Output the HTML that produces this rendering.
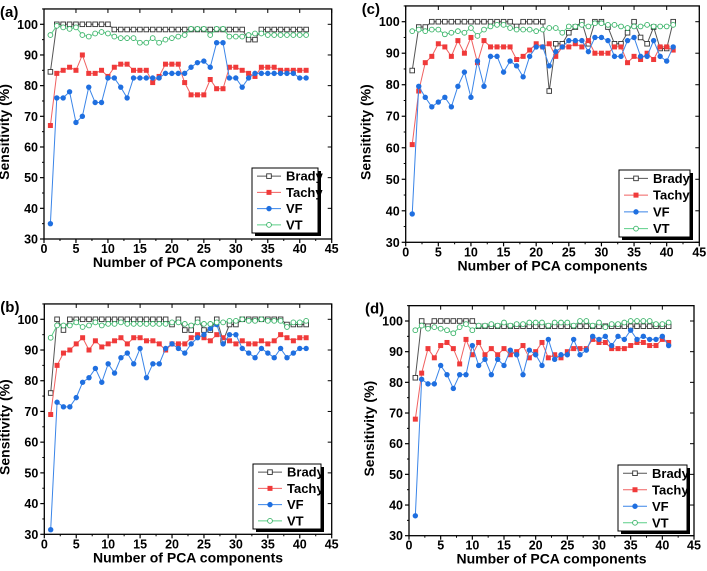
<!DOCTYPE html>
<html><head><meta charset="utf-8"><style>
html,body{margin:0;padding:0;background:#fff;}
svg{display:block;font-family:"Liberation Sans",Arial,sans-serif;}
</style></head><body>
<svg id="fig" width="707" height="571" viewBox="0 0 707 571"></svg>
<script>
const xCats = Array.from({length:41},(_, i)=>i+1);
const xTicks = [0,5,10,15,20,25,30,35,40,45];
const yTicks = [30,40,50,60,70,80,90,100];
const seriesNames = ["Brady","Tachy","VF","VT"];

const aBrady=[84.5,100,100,100,100,100,100,100,100,100,98.3,98.3,98.3,98.3,98.3,98.3,98.3,98.3,98.3,98.3,98.3,98.3,98.3,98.3,98.3,98.3,98.3,98.3,98.3,98.3,98.3,95,95,98.3,98.3,98.3,98.3,98.3,98.3,98.3,98.3];
const aTachy=[67,84,85,86,85,90,84,84,85,83,86,87,87,85,85,85,81,83,87,87,87,81,77,77,77,82,79,79,86,86,85,84,83,86,86,86,85,85,85,85,85];
const aVF=[35,76,76,78,68,70,79.5,74.5,74.5,82.5,82.5,79.5,76,82.5,82.5,82.5,82.5,82.5,84,84,84,84,86,87.5,88,86,94,94,82.5,82.5,79.5,82.5,84,84,84,84,84,84,84,82.5,82.5];
const aVT=[96.5,99.5,99,98.5,99,96.5,96,97,97.5,97,96,95.5,95.5,95.5,94,94,95.5,94,95,95.5,96,96.5,98.5,98.5,98.5,96.5,98.5,98.5,96,96,96,96.5,97,97,96.5,96.5,96.5,96.5,96.5,96.5,96.5];

const bBrady=[76,100,96.5,100,100,100,100,100,100,100,100,100,100,100,100,100,100,100,100,98.3,100,96.5,96.5,100,96.5,96.5,100,93,98.3,98.3,100,100,100,100,100,100,100,98.3,98.3,98.3,98.3];
const bTachy=[69,85,89,90,92,94,90,93,91,92,93,94,92,94,94,93,93,92,90,92,92,92,94,95,94,93,95,94,93,92,93,92,92,93,92,93,95,94,93,94,94];
const bVF=[31.5,73,71.5,71.5,74.5,79.5,81,84,79.5,85.5,82.5,87.5,89,85.5,90.5,81,85.5,85.5,90.5,92,90.5,89,92,94,95,97,98.3,92,95,95,90.5,89,87.5,90.5,89,87.5,90.5,87.5,89,90.5,90.5];
const bVT=[94,98,98,98,99,97.5,98,99,98,98.5,98.5,99,98.5,98.5,98.5,98.5,98.5,98.5,98.5,99,99,98.5,98,99,98.5,98.5,99,99,99.5,99.5,100,99.5,99.5,100,99.5,99.5,99.5,97.5,99,99,99.5];

const cBrady=[84.5,98.3,98.3,100,100,100,100,100,100,100,100,100,100,100,100,100,98.5,100,100,100,100,78,93,93,96.5,98.3,100,93,100,100,98.3,93,93,96.5,100,95,93,98.3,91.5,91.5,100];
const cTachy=[61,78,87,89,93,92,89,94,90,95,87,94,92,92,92,92,88,89,91,93,92,93,89,92,92,93,92,94,90,90,90,92,92,87,89,88,90,88,92,92,91];
const cVF=[39,79.5,76,73,74.5,76,73,79.5,84,76,87.5,79.5,89,89,84,87.5,86,82.5,89,92,92,86,90.5,92,94,94,94,90.5,95,95,94,89,89,94,95,89,89,94,89,87.5,92];
const cVT=[97,97.5,97,97.5,97.5,96,96.5,97,96.5,98,95.5,97.5,98.5,99,99,98,97.5,97.5,97.5,97,97.5,98,98,96.5,98.5,98.5,99,98.5,99.5,99.5,99,99,98.5,98,98.5,98.5,99,98.5,98.5,98.5,99];

const dBrady=[81.5,100,98.3,100,100,100,100,100,100,100,98.3,98.3,98.3,98.3,98.3,98.3,98.3,98.3,98.3,98.3,98.3,98.3,98.3,98.3,98.3,98.3,98.3,98.3,98.3,98.3,98.3,98.3,98.3,98.3,98.3,98.3,98.3,98.3,98.3,98.3,98.3];
const dTachy=[68,83,91,88,92,93,91,86,94,89,93,89,91,89,91,89,90,92,88,90,93,88,89,88,90,91,91,91,94,93,93,91,91,91,92,93,93,92,92,94,93];
const dVF=[36.5,81,79.5,79.5,85.5,82.5,78,82.5,82.5,92,85.5,87.5,82.5,87.5,85.5,90.5,89,82.5,90.5,89,85.5,94,87.5,89,89,94,89,90.5,95,94,95,92,95,94,97,94,95,94,94,95,92];
const dVT=[97,98.5,97.5,98,97.5,97,96,98,99,97,98.5,98.5,99,98.5,99.5,98.5,99,99,99.5,99.5,99.5,98.5,99.5,99.5,99.5,98.5,100,100,98.5,99.5,98,99,99,99.5,100,100,100,100,99,99,99.5];

const NS="http://www.w3.org/2000/svg";
const svg=document.getElementById('fig');
function mk(tag,attrs,parent){const e=document.createElementNS(NS,tag);for(const k in attrs)e.setAttribute(k,attrs[k]);(parent||svg).appendChild(e);return e;}

const panels=[
 {id:"a",x0:44,x45:331.7,y100:24.3,y30:239,leg:[252,168,318,233],data:[aBrady,aTachy,aVF,aVT]},
 {id:"b",x0:44.3,x45:331.7,y100:319.3,y30:534.3,leg:[253,464,321,529],data:[bBrady,bTachy,bVF,bVT]},
 {id:"c",x0:405.7,x45:699.3,y100:21.7,y30:242.3,leg:[619,170,690,237],data:[cBrady,cTachy,cVF,cVT]},
 {id:"d",x0:409,x45:694,y100:321,y30:535.7,leg:[618,465,687,531],data:[dBrady,dTachy,dVF,dVT]}
];
const colors=["#333333","#f03a3a","#1f6fe0","#3cb46a"];
const lineColors=["#555555","#f06060","#3a85e8","#5ccf88"];

panels.forEach(p=>{
 const g=mk('g',{});
 
 
 const sx=v=>p.x0+(p.x45-p.x0)*v/45;
 const sy=v=>p.y30+(p.y100-p.y30)*(v-30)/70;
 const L=sx(0),R=sx(45),B=sy(30),T=sy(105);
 const lab=mk('text',{x:p.x0-44,y:T+8,'font-size':15,'font-weight':'bold',fill:'#000'},g);
 lab.textContent='('+p.id+')';
 
 
 const frame=mk('rect',{x:L,y:T,width:R-L,height:B-T,fill:'none',stroke:'#000','stroke-width':1.3},g);
 
 
 xTicks.forEach(t=>{
  mk('line',{x1:sx(t),x2:sx(t),y1:B,y2:B+4,stroke:'#000','stroke-width':1.2},g);
  mk('line',{x1:sx(t),x2:sx(t),y1:T,y2:T+4,stroke:'#000','stroke-width':1},g);
  if(t<45){mk('line',{x1:sx(t+2.5),x2:sx(t+2.5),y1:B,y2:B+2,stroke:'#000'},g);}
  const tx=mk('text',{x:sx(t),y:B+14,'font-size':12.5,'font-weight':'bold','text-anchor':'middle'},g);
  tx.textContent=t;
  
  
 });
 yTicks.forEach(t=>{
  mk('line',{x1:L-4,x2:L,y1:sy(t),y2:sy(t),stroke:'#000','stroke-width':1.2},g);
  mk('line',{x1:R-4,x2:R,y1:sy(t),y2:sy(t),stroke:'#000','stroke-width':1},g);
  mk('line',{x1:L-2,x2:L,y1:sy(t+5),y2:sy(t+5),stroke:'#000'},g);
  const ty=mk('text',{x:L-6,y:sy(t)+4.5,'font-size':12.5,'font-weight':'bold','text-anchor':'end'},g);
  ty.textContent=t;
  
  
 });
 const xt=mk('text',{x:(L+R)/2,y:B+28,'font-size':14,'font-weight':'bold','text-anchor':'middle'},g);
 xt.textContent='Number of PCA components';
 
 
 const yc=(T+B)/2+8;
 const yt=mk('text',{x:L-35,y:yc,'font-size':14,'font-weight':'bold','text-anchor':'middle',transform:`rotate(-90 ${L-35} ${yc})`},g);
 yt.textContent='Sensitivity (%)';
 
 
 p.data.forEach((vals,si)=>{
  const sg=mk('g',{},g);
  
  
  mk('polyline',{points:vals.map((v,i)=>sx(xCats[i])+','+sy(v)).join(' '),fill:'none',stroke:lineColors[si],'stroke-width':1},sg);
  vals.forEach((v,i)=>{
   const cx=sx(xCats[i]),cy=sy(v);
   let m;
   if(si===0)m=mk('rect',{x:cx-2.3,y:cy-2.3,width:4.6,height:4.6,fill:'#fff',stroke:'#333','stroke-width':0.9},sg);
   else if(si===1)m=mk('rect',{x:cx-2.5,y:cy-2.5,width:5,height:5,fill:colors[1]},sg);
   else if(si===2)m=mk('circle',{cx:cx,cy:cy,r:2.7,fill:colors[2]},sg);
   else m=mk('circle',{cx:cx,cy:cy,r:2.4,fill:'#fff',stroke:colors[3],'stroke-width':0.9},sg);
   
   
  });
 });
 const [lx1,ly1,lx2,ly2]=p.leg;
 const lg=mk('g',{},g);
 
 
 mk('rect',{x:lx1+3,y:ly1+3,width:lx2-lx1,height:ly2-ly1,fill:'#000'},lg);
 mk('rect',{x:lx1,y:ly1,width:lx2-lx1,height:ly2-ly1,fill:'#fff',stroke:'#000','stroke-width':1},lg);
 const step=(ly2-ly1)/4;
 seriesNames.forEach((n,si)=>{
  const yy=ly1+step*(si+0.5);
  const e=mk('g',{},lg);
  
  
  mk('line',{x1:lx1+5,x2:lx1+29,y1:yy,y2:yy,stroke:lineColors[si],'stroke-width':1},e);
  const cx=lx1+17;
  if(si===0)mk('rect',{x:cx-2.3,y:yy-2.3,width:4.6,height:4.6,fill:'#fff',stroke:'#333','stroke-width':0.9},e);
  else if(si===1)mk('rect',{x:cx-2.5,y:yy-2.5,width:5,height:5,fill:colors[1]},e);
  else if(si===2)mk('circle',{cx:cx,cy:yy,r:2.7,fill:colors[2]},e);
  else mk('circle',{cx:cx,cy:yy,r:2.4,fill:'#fff',stroke:colors[3],'stroke-width':0.9},e);
  const t=mk('text',{x:lx1+34,y:yy+4.5,'font-size':13,'font-weight':'bold'},e);
  t.textContent=n;
 });
});
</script>
</body></html>
